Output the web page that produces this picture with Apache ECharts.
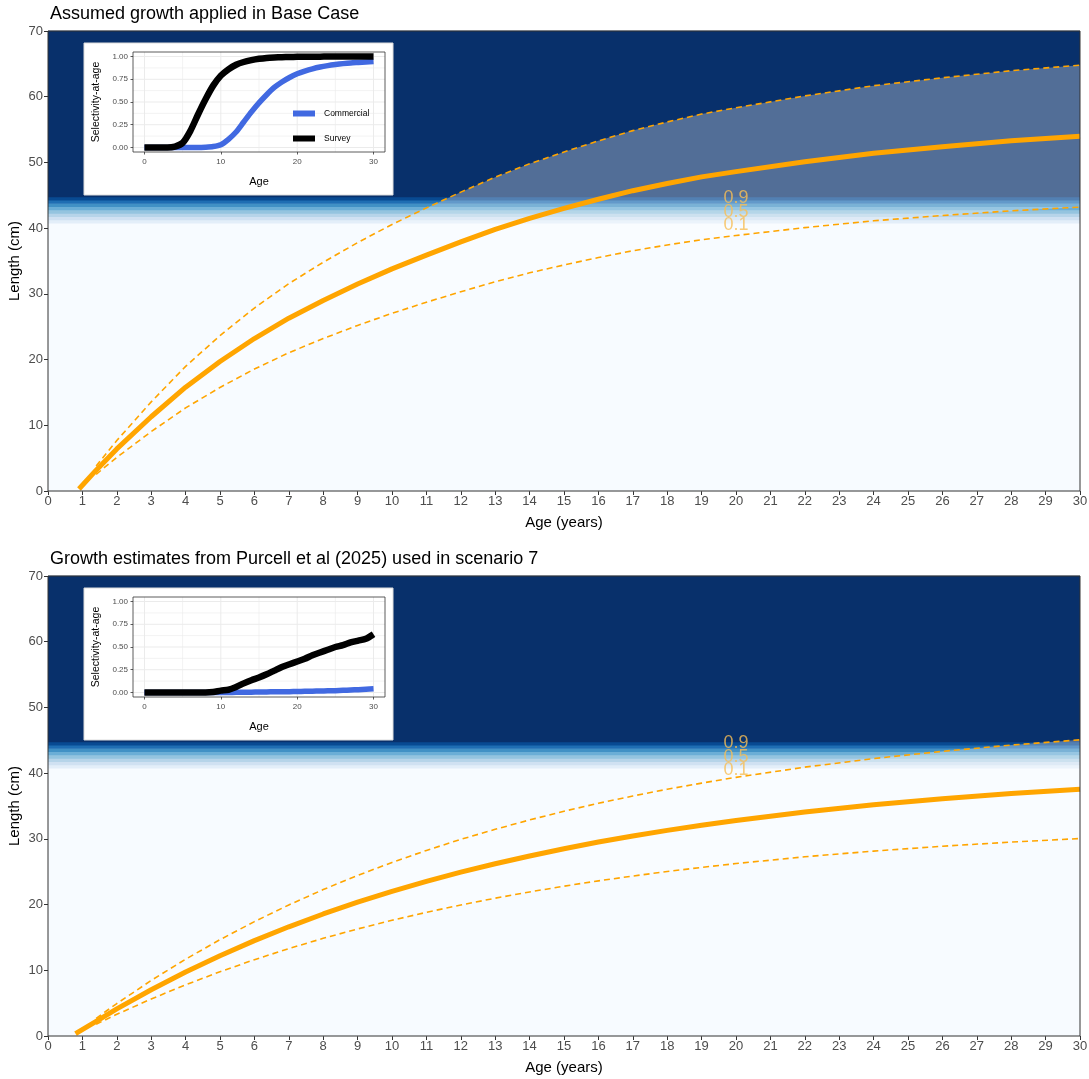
<!DOCTYPE html>
<html>
<head>
<meta charset="utf-8">
<title>Growth and selectivity</title>
<script src="https://cdn.jsdelivr.net/npm/echarts@6/dist/echarts.min.js"></script>
<style>
  html, body { margin: 0; padding: 0; background: #fff; }
  #chart { width: 1089px; height: 1079px; }
</style>
</head>
<body>
<div id="chart"></div>
<script>
// ---- Growth curves: Base Case (top panel) ----
const ageTop = [0.9, 1.4, 2, 3, 4, 5, 6, 7, 8, 9, 10, 11, 12, 13, 14, 15, 16, 17, 18, 19, 20, 22, 24, 26, 28, 30];
const meanTop = [0.30, 3.17, 6.4, 11.3, 15.8, 19.7, 23.2, 26.3, 29.0, 31.5, 33.8, 35.9, 37.9, 39.8, 41.5, 43.0, 44.4, 45.7, 46.8, 47.8, 48.6, 50.1, 51.4, 52.4, 53.3, 54.0];
const bandAgeTop = [1.4, 2, 3, 4, 5, 6, 7, 8, 9, 10, 11, 12, 13, 14, 15, 16, 17, 18, 19, 20, 22, 24, 26, 28, 30];
const upperTop = [3.80, 7.68, 13.56, 18.96, 23.64, 27.84, 31.56, 34.80, 37.80, 40.56, 43.08, 45.48, 47.76, 49.80, 51.60, 53.28, 54.84, 56.16, 57.36, 58.32, 60.12, 61.68, 62.88, 63.96, 64.80];
const lowerTop = [2.54, 5.12, 9.04, 12.64, 15.76, 18.56, 21.04, 23.20, 25.20, 27.04, 28.72, 30.32, 31.84, 33.20, 34.40, 35.52, 36.56, 37.44, 38.24, 38.88, 40.08, 41.12, 41.92, 42.64, 43.20];

// ---- Growth curves: Purcell et al (2025), scenario 7 (bottom panel) ----
const ageBot = [0.8, 1.4, 2, 3, 4, 5, 6, 7, 8, 9, 10, 11, 12, 13, 14, 15, 16, 17, 18, 19, 20, 22, 24, 26, 28, 30];
const meanBot = [0.35, 2.24, 4.12, 7.04, 9.74, 12.22, 14.51, 16.62, 18.57, 20.36, 22.01, 23.53, 24.93, 26.21, 27.40, 28.50, 29.51, 30.43, 31.29, 32.07, 32.80, 34.09, 35.18, 36.10, 36.89, 37.56];
const bandAgeBot = [1.4, 2, 3, 4, 5, 6, 7, 8, 9, 10, 11, 12, 13, 14, 15, 16, 17, 18, 19, 20, 22, 24, 26, 28, 30];
const upperBot = [2.69, 4.94, 8.45, 11.69, 14.66, 17.41, 19.94, 22.28, 24.43, 26.41, 28.24, 29.92, 31.45, 32.88, 34.20, 35.41, 36.52, 37.55, 38.48, 39.36, 40.91, 42.22, 43.32, 44.27, 45.07];
const lowerBot = [1.79, 3.30, 5.63, 7.79, 9.78, 11.61, 13.30, 14.86, 16.29, 17.61, 18.82, 19.94, 20.97, 21.92, 22.80, 23.61, 24.34, 25.03, 25.66, 26.24, 27.27, 28.14, 28.88, 29.51, 30.05];

// ---- Retention probability by length (background tiles) ----
const retLenLo = [0, 40.75, 41.25, 41.75, 42.25, 42.75, 43.25, 43.75, 44.25, 44.75];
const retLenHi = [40.75, 41.25, 41.75, 42.25, 42.75, 43.25, 43.75, 44.25, 44.75, 70];
const retProb = [0, 0.1, 0.2, 0.3, 0.4, 0.5, 0.63, 0.76, 0.9, 1];
const contourLevels = ['0.9', '0.5', '0.1'];
const contourLength = [44.6, 42.5, 40.4];
const contourAge = 20;

// ---- Selectivity-at-age (insets) ----
const selAge = [0, 1, 2, 3, 4, 5, 6, 7, 8, 9, 10, 11, 12, 13, 14, 15, 16, 17, 18, 19, 20, 21, 22, 23, 24, 25, 26, 27, 28, 29, 30];
const commTop = [0, 0, 0, 0, 0, 0, 0, 0, 0.003, 0.01, 0.03, 0.09, 0.17, 0.28, 0.39, 0.49, 0.58, 0.66, 0.72, 0.77, 0.81, 0.84, 0.865, 0.885, 0.90, 0.912, 0.922, 0.93, 0.935, 0.94, 0.945];
const survTop = [0, 0, 0, 0, 0.01, 0.05, 0.18, 0.36, 0.53, 0.68, 0.79, 0.86, 0.91, 0.94, 0.96, 0.975, 0.985, 0.99, 0.993, 0.995, 0.997, 0.998, 0.999, 0.999, 1, 1, 1, 1, 1, 1, 1];
const commBot = [0, 0, 0, 0, 0, 0, 0, 0, 0, 0, 0, 0, 0.001, 0.002, 0.003, 0.005, 0.006, 0.007, 0.008, 0.009, 0.01, 0.012, 0.014, 0.016, 0.018, 0.02, 0.023, 0.027, 0.031, 0.035, 0.04];
const survBot = [0, 0, 0, 0, 0, 0, 0, 0, 0, 0.005, 0.02, 0.03, 0.06, 0.10, 0.135, 0.165, 0.20, 0.24, 0.28, 0.31, 0.34, 0.37, 0.41, 0.44, 0.47, 0.50, 0.52, 0.55, 0.57, 0.59, 0.64];

// inset tick / gridline positions
const insetAgeTicks = [0, 10, 20, 30];
const insetAgeMinor = [5, 15, 25];
const insetSelTicks = [0, 0.25, 0.5, 0.75, 1];
const insetSelMinor = [0.125, 0.375, 0.625, 0.875];

const titles = ['Assumed growth applied in Base Case', 'Growth estimates from Purcell et al (2025) used in scenario 7'];

const BLUES = ['#f7fbff', '#deebf7', '#c6dbef', '#9ecae1', '#6baed6', '#4292c6', '#2171b5', '#08519c', '#08306b'];
const ORANGE = '#FFA500';
const FONT = '"Liberation Sans", Arial, sans-serif';

const chart = echarts.init(document.getElementById('chart'), null, { renderer: 'canvas' });

const pairs = (xs, ys) => xs.map((x, i) => [x, ys[i]]);
const tiles = retLenLo.map((lo, i) => [lo, retLenHi[i], retProb[i]]);

function bandSeries(idx) {
  return {
    type: 'custom', xAxisIndex: idx, yAxisIndex: idx, z: 1, silent: true,
    data: tiles,
    encode: { y: [0, 1] },
    renderItem(params, api) {
      const lo = api.value(0), hi = api.value(1), p = api.value(2);
      const a = api.coord([0, hi]);
      const b = api.coord([30, lo]);
      return {
        type: 'rect',
        shape: { x: a[0], y: a[1] - 0.3, width: b[0] - a[0], height: b[1] - a[1] + 0.6 },
        style: { fill: echarts.color.lerp(p, BLUES) }
      };
    }
  };
}

// shaded ribbon between the lower and upper growth quantiles
function ribbonSeries(idx, bAges, upper, lower) {
  return {
    type: 'custom', xAxisIndex: idx, yAxisIndex: idx, z: 2, silent: true,
    data: [0],
    renderItem(params, api) {
      const top = bAges.map((a, i) => api.coord([a, upper[i]]));
      const bot = bAges.map((a, i) => api.coord([a, lower[i]])).reverse();
      return {
        type: 'polygon',
        shape: { points: top.concat(bot) },
        style: { fill: 'rgba(255,255,255,0.3)' }
      };
    }
  };
}

function growthSeries(idx, ages, mean, bAges, upper, lower) {
  const common = { type: 'line', xAxisIndex: idx, yAxisIndex: idx, symbol: 'none', smooth: false, silent: true };
  return [
    ribbonSeries(idx, bAges, upper, lower),
    Object.assign({}, common, { z: 3, data: pairs(bAges, upper), lineStyle: { color: ORANGE, width: 1.6, type: [6, 4] } }),
    Object.assign({}, common, { z: 3, data: pairs(bAges, lower), lineStyle: { color: ORANGE, width: 1.6, type: [6, 4] } }),
    Object.assign({}, common, { z: 4, data: pairs(ages, mean), lineStyle: { color: ORANGE, width: 5, cap: 'butt', join: 'round' } }),
    {
      type: 'scatter', xAxisIndex: idx, yAxisIndex: idx, z: 5, silent: true,
      symbolSize: 1, itemStyle: { color: 'rgba(0,0,0,0)' },
      data: contourLevels.map((lv, i) => [contourAge, contourLength[i], lv]),
      label: {
        show: true, position: 'inside', formatter: p => p.value[2],
        color: '#F7BE55', fontSize: 18, fontFamily: FONT
      }
    }
  ];
}

function insetSeries(k, comm, surv) {
  const idx = k + 2;
  const gridLines = [];
  insetAgeTicks.forEach(v => gridLines.push(['x', v, 1]));
  insetAgeMinor.forEach(v => gridLines.push(['x', v, 0.6]));
  insetSelTicks.forEach(v => gridLines.push(['y', v, 1]));
  insetSelMinor.forEach(v => gridLines.push(['y', v, 0.6]));
  return [
    {
      type: 'custom', xAxisIndex: idx, yAxisIndex: idx, zlevel: 1, z: 2, silent: true,
      data: gridLines.map((g, i) => [i]),
      renderItem(params, api) {
        const g = gridLines[params.dataIndex];
        const cs = params.coordSys;
        let shape;
        if (g[0] === 'x') {
          const px = api.coord([g[1], 0])[0];
          shape = { x1: px, y1: cs.y, x2: px, y2: cs.y + cs.height };
        } else {
          const py = api.coord([0, g[1]])[1];
          shape = { x1: cs.x, y1: py, x2: cs.x + cs.width, y2: py };
        }
        return { type: 'line', shape, style: { stroke: '#ebebeb', lineWidth: g[2] } };
      }
    },
    {
      name: 'Commercial', type: 'line', xAxisIndex: idx, yAxisIndex: idx, zlevel: 1, z: 3,
      symbol: 'none', smooth: 0.25, silent: true, color: '#4169E1',
      data: pairs(selAge, comm), lineStyle: { color: '#4169E1', width: 5.5, cap: 'butt', join: 'round' }
    },
    {
      name: 'Survey', type: 'line', xAxisIndex: idx, yAxisIndex: idx, zlevel: 1, z: 4,
      symbol: 'none', smooth: 0.25, silent: true, color: '#000000',
      data: pairs(selAge, surv), lineStyle: { color: '#000000', width: 6.5, cap: 'butt', join: 'round' }
    }
  ];
}

const mainTop = [31, 576];
const insetTop = [52, 597];
const boxTop = [43, 588];

const grids = [], xAxes = [], yAxes = [];
mainTop.forEach((t, i) => {
  grids.push({ left: 48, top: t, width: 1032, height: 460, show: true, z: 10,
    outerBoundsMode: 'none', containLabel: false,
    backgroundColor: 'transparent', borderColor: '#333333', borderWidth: 1 });
  xAxes.push({
    type: 'value', gridIndex: i, min: 0, max: 30, interval: 1,
    name: 'Age (years)', nameLocation: 'middle', nameGap: 24, nameMoveOverlap: false,
    nameTextStyle: { fontSize: 15, color: '#000', fontFamily: FONT },
    axisLine: { show: false, onZero: false },
    axisTick: { show: true, length: 4, lineStyle: { color: '#333' } },
    axisLabel: { fontSize: 13, color: '#4d4d4d', margin: 4, fontFamily: FONT },
    splitLine: { show: false }
  });
  yAxes.push({
    type: 'value', gridIndex: i, min: 0, max: 70, interval: 10,
    name: 'Length (cm)', nameLocation: 'middle', nameGap: 26, nameRotate: 90, nameMoveOverlap: false,
    nameTextStyle: { fontSize: 15, color: '#000', fontFamily: FONT },
    axisLine: { show: false, onZero: false },
    axisTick: { show: true, length: 4, lineStyle: { color: '#333' } },
    axisLabel: { fontSize: 13, color: '#4d4d4d', margin: 5, fontFamily: FONT },
    splitLine: { show: false }
  });
});
insetTop.forEach((t, i) => {
  grids.push({ left: 133, top: t, width: 252, height: 100, show: true, zlevel: 1, z: 10,
    outerBoundsMode: 'none', containLabel: false,
    backgroundColor: 'transparent', borderColor: '#333333', borderWidth: 0.8 });
  xAxes.push({
    type: 'value', gridIndex: i + 2, min: -1.5, max: 31.5, zlevel: 1,
    name: 'Age', nameLocation: 'middle', nameGap: 24, nameMoveOverlap: false,
    nameTextStyle: { fontSize: 11, color: '#000', fontFamily: FONT },
    axisLine: { show: false, onZero: false },
    axisTick: { show: true, length: 2.5, customValues: insetAgeTicks, lineStyle: { color: '#333', width: 0.8 } },
    axisLabel: { fontSize: 8, color: '#4d4d4d', margin: 6, customValues: insetAgeTicks, fontFamily: FONT },
    splitLine: { show: false }
  });
  yAxes.push({
    type: 'value', gridIndex: i + 2, min: -0.05, max: 1.05, zlevel: 1,
    name: 'Selectivity-at-age', nameLocation: 'middle', nameGap: 31, nameRotate: 90, nameMoveOverlap: false,
    nameTextStyle: { fontSize: 10.5, color: '#000', fontFamily: FONT },
    axisLine: { show: false, onZero: false },
    axisTick: { show: true, length: 2.5, customValues: insetSelTicks, lineStyle: { color: '#333', width: 0.8 } },
    axisLabel: { fontSize: 8, color: '#4d4d4d', margin: 5, customValues: insetSelTicks,
      formatter: v => v.toFixed(2), fontFamily: FONT },
    splitLine: { show: false }
  });
});

const series = [
  bandSeries(0),
  ...growthSeries(0, ageTop, meanTop, bandAgeTop, upperTop, lowerTop),
  bandSeries(1),
  ...growthSeries(1, ageBot, meanBot, bandAgeBot, upperBot, lowerBot),
  ...insetSeries(0, commTop, survTop),
  ...insetSeries(1, commBot, survBot)
];

chart.setOption({
  animation: false,
  backgroundColor: '#ffffff',
  textStyle: { fontFamily: FONT },
  title: mainTop.map((t, i) => ({
    text: titles[i], left: 45, top: t - 31,
    textStyle: { fontSize: 18, fontWeight: 'normal', color: '#000', fontFamily: FONT }
  })),
  graphic: boxTop.map(t => ({
    type: 'rect', zlevel: 1, z: 0, silent: true,
    shape: { x: 84, y: t, width: 309, height: 152 },
    style: { fill: '#ffffff', stroke: '#dcdcdc', lineWidth: 1 }
  })),
  legend: {
    show: true, zlevel: 1, z: 20, orient: 'vertical', left: 288, top: 104,
    data: ['Commercial', 'Survey'], icon: 'rect', itemWidth: 22, itemHeight: 6, itemGap: 16,
    selectedMode: false,
    textStyle: { fontSize: 8.5, color: '#000', fontFamily: FONT, padding: [0, 0, 0, 4] }
  },
  grid: grids,
  xAxis: xAxes,
  yAxis: yAxes,
  series: series
});
</script>
</body>
</html>
